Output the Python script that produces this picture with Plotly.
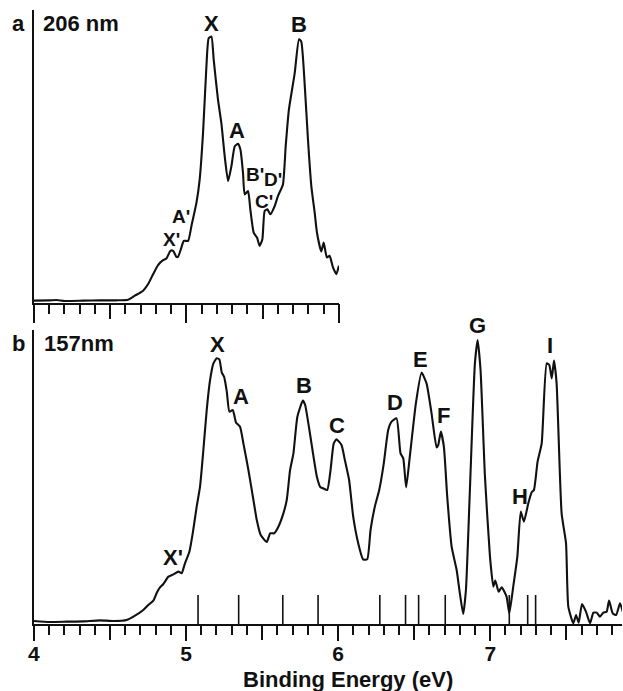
import plotly.graph_objects as go

# Panel a: 206 nm spectrum
energy_a = [4.0,4.105,4.148,4.203,4.323,4.432,4.541,4.618,4.662,4.716,4.749,4.782,4.814,4.847,4.869,4.895,4.913,4.934,4.945,4.967,4.983,5.011,5.033,5.066,5.087,5.109,5.131,5.146,5.164,5.179,5.207,5.229,5.251,5.273,5.295,5.317,5.338,5.354,5.371,5.382,5.404,5.419,5.441,5.463,5.480,5.498,5.513,5.531,5.550,5.579,5.600,5.633,5.651,5.672,5.710,5.738,5.753,5.775,5.797,5.819,5.841,5.856,5.884,5.900,5.921,5.939,5.961,5.983,6.0]
signal_a = [7,8,9,6,7,8,8,10,22,37,57,87,114,129,134,157,157,139,139,167,187,187,232,302,372,512,712,797,802,732,612,542,442,367,412,472,479,462,392,327,337,282,212,197,172,192,277,282,267,292,322,357,472,582,692,794,787,662,492,352,272,212,155,182,137,142,107,87,112]

# Panel b: 157 nm spectrum
energy_b = [4.0,4.105,4.215,4.325,4.434,4.522,4.610,4.654,4.719,4.752,4.785,4.811,4.829,4.851,4.884,4.917,4.950,4.971,4.993,5.022,5.044,5.070,5.092,5.114,5.136,5.158,5.180,5.202,5.219,5.235,5.250,5.268,5.285,5.307,5.329,5.355,5.377,5.410,5.443,5.465,5.491,5.531,5.553,5.579,5.607,5.640,5.662,5.684,5.706,5.732,5.768,5.783,5.811,5.838,5.860,
            5.884,5.901,5.928,5.950,5.971,5.989,6.022,6.044,6.072,6.099,6.132,6.164,6.191,6.213,6.241,6.270,6.300,6.329,6.351,6.384,6.410,6.428,6.447,6.471,6.511,6.548,6.581,6.614,6.647,6.658,6.675,6.695,6.717,6.746,6.779,6.800,6.822,6.840,6.866,6.899,6.917,6.936,6.965,6.998,7.020,7.033,7.055,7.075,7.107,7.125,7.151,7.178,7.200,7.221,7.250,7.272,7.287,7.311,7.338,7.371,7.388,7.404,7.419,7.436,7.469,7.498,7.513,7.546,7.564,7.581,7.603,7.629,7.656,7.678,7.700,7.721,7.743,7.765,7.781,7.805,7.827,7.853,7.871]
signal_b = [9,6,7,8,11,9,12,22,42,57,70,97,110,120,142,149,157,152,182,217,272,352,412,522,642,732,782,797,794,754,742,697,637,642,604,592,542,462,372,312,267,246,272,272,292,332,372,462,512,622,670,657,582,502,442,
            410,407,402,462,542,554,537,492,432,322,242,194,194,282,352,402,482,582,607,617,512,497,410,502,662,754,722,632,530,537,577,532,382,232,162,92,30,102,402,782,852,762,442,202,112,130,97,110,82,32,112,202,337,307,362,395,402,487,542,782,777,737,790,722,332,242,52,2,27,4,60,37,2,34,34,22,34,37,70,32,27,62,37]

# Vertical stick positions under panel b
stick_energy = [5.079,5.346,5.636,5.868,6.274,6.443,6.529,6.704,7.125,7.246,7.298]
stick_height = 87

# Peak labels
labels_a = ["X","B","A","B'","D'","C'","A'","X'"]
label_x_a = [5.164,5.738,5.334,5.448,5.568,5.509,4.967,4.902]
label_y_a = [842,837,520,387,372,305,260,192]

labels_b = ["X","A","B","X'","C","D","E","F","G","H","I"]
label_x_b = [5.208,5.359,5.776,4.917,5.993,6.373,6.544,6.691,6.917,7.195,7.395]
label_y_b = [839,682,717,200,597,664,794,627,882,384,837]
label_shift_b = [0,0,0,0,0,0,0,0,5,0,0]

W, H = 623, 691
FONT = "Liberation Sans"
BLACK = "#111111"

fig = go.Figure()
line = dict(color=BLACK, width=2.1, shape="spline", smoothing=0.5)
fig.add_trace(go.Scatter(x=energy_a, y=signal_a, mode="lines", line=line, xaxis="x", yaxis="y", cliponaxis=False, showlegend=False))
fig.add_trace(go.Scatter(x=energy_b, y=signal_b, mode="lines", line=line, xaxis="x2", yaxis="y2", cliponaxis=False, showlegend=False))

sx, sy = [], []
for e in stick_energy:
    sx += [e, e, None]
    sy += [0, stick_height, None]
fig.add_trace(go.Scatter(x=sx, y=sy, mode="lines", line=dict(color=BLACK, width=1.6), xaxis="x2", yaxis="y2", showlegend=False))

fig.add_trace(go.Scatter(x=[4, 6], y=[0, 0], mode="lines", line=dict(width=0), xaxis="x3", yaxis="y", showlegend=False, hoverinfo="skip"))
fig.add_trace(go.Scatter(x=[4, 7.866], y=[0, 0], mode="lines", line=dict(width=0), xaxis="x4", yaxis="y2", showlegend=False, hoverinfo="skip"))

def half_ticks(lo, hi):
    n = int((hi - lo) * 2) + 1
    return [lo + i * 0.5 for i in range(n)]

def base_axis(rng, domain, anchor, vals):
    return dict(range=rng, domain=domain, anchor=anchor, showgrid=False, zeroline=False,
                showline=True, linecolor=BLACK, linewidth=2.2, ticks="outside", tickcolor=BLACK, tickwidth=1.8,
                ticklen=14, tickvals=vals, ticktext=[""] * len(vals),
                minor=dict(dtick=0.1, tick0=4, ticks="outside", ticklen=9, tickcolor=BLACK, tickwidth=1.8, showgrid=False))

def int_axis(rng, domain, anchor, over, vals, text, ln):
    return dict(range=rng, domain=domain, anchor=anchor, overlaying=over, showgrid=False, zeroline=False,
                showline=False, ticks="outside", tickcolor=BLACK, tickwidth=1.8, ticklen=ln,
                ticklabelstandoff=-5,
                tickvals=vals, ticktext=text, tickfont=dict(family=FONT, size=21, color=BLACK))

def y_axis(domain, anchor):
    return dict(range=[0, 882], domain=domain, anchor=anchor, showgrid=False, zeroline=False,
                showline=True, linecolor=BLACK, linewidth=2.2, ticks="", showticklabels=False)

def fx(px):
    return (px - 4) * (622 / 618) / W

dom_xa = [fx(32), fx(338)]
dom_xb = [fx(32), 622 / W]
dom_ya = [1 - 303 / H, 1 - 10 / H]
dom_yb = [1 - 624 / H, 1 - 330 / H]

anns = []
def lab(text, x, y, xref, yref, size=22, shift=0):
    anns.append(dict(text=text, x=x, y=y, xref=xref, yref=yref, showarrow=False, xanchor="center", yanchor="middle",
                     yshift=shift, font=dict(family=FONT, size=size, color=BLACK, weight="bold")))

for t, x, y in zip(labels_a, label_x_a, label_y_a):
    lab(t, x, y, "x", "y", 19 if "'" in t else 22)
for t, x, y, s in zip(labels_b, label_x_b, label_y_b, label_shift_b):
    lab(t, x, y, "x2", "y2", 22, s)

lab("a", fx(17), 1 - 24 / H, "paper", "paper")
lab("206 nm", fx(79), 1 - 24 / H, "paper", "paper")
lab("b", fx(17), 1 - 343 / H, "paper", "paper")
lab("157nm", fx(77), 1 - 343 / H, "paper", "paper")
lab("Binding Energy (eV)", fx(347), 1 - 679 / H, "paper", "paper", 22)

fig.update_layout(
    width=W, height=H, margin=dict(l=0, r=0, t=0, b=0), autosize=False,
    paper_bgcolor="white", plot_bgcolor="white", showlegend=False,
    xaxis=base_axis([4, 6], dom_xa, "y", half_ticks(4, 6)),
    xaxis2=base_axis([4, 7.866], dom_xb, "y2", half_ticks(4, 7.5)),
    xaxis3=int_axis([4, 6], dom_xa, "y", "x", [4, 5, 6], ["", "", ""], 19),
    xaxis4=int_axis([4, 7.866], dom_xb, "y2", "x2", [4, 5, 6, 7], ["<b>4</b>", "<b>5</b>", "<b>6</b>", "<b>7</b>"], 16),
    yaxis=y_axis(dom_ya, "x"),
    yaxis2=y_axis(dom_yb, "x2"),
    annotations=anns,
)

fig.write_html("out.html", config=dict(displayModeBar=False),
               post_script="document.body.style.margin='0';document.body.style.overflow='hidden';")
